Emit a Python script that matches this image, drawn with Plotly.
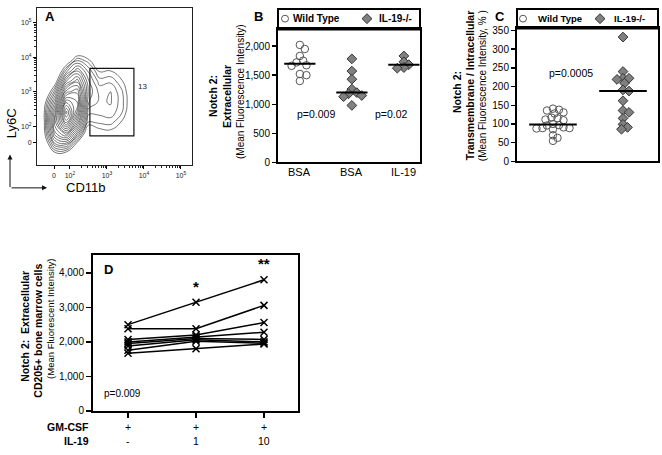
import numpy as np
import plotly.graph_objects as go

W, H = 662, 455
FONT = "Liberation Sans, Arial, sans-serif"


def px(x):
    return x / W


def py(y):
    return 1 - y / H


# ---------------- Panel A: flow contour (density levels) -------------
# display units: 2 = 10^2, 3 = 10^3 ...
a_x = [1.0, 1.3, 1.6, 1.9, 2.2, 2.5, 2.8, 3.1, 3.4, 3.7, 4.0]
a_y = [0.9, 1.2, 1.5, 1.8, 2.1, 2.4, 2.7, 3.0, 3.3, 3.6, 3.9, 4.2, 4.5]
a_z = [
    [-1.4, -1.4, -1.4, -1.4, -1.4, -1.4, -1.4, -1.4, -1.4, -1.4, -1.4],
    [-1.4, -1.4, -0.05, -0.25, -1.4, -1.4, -1.4, -1.4, -1.4, -1.4, -1.4],
    [-1.4, -0.82, 2.06, 2.38, -0.05, -1.4, -1.4, -1.4, -1.4, -1.4, -1.4],
    [-1.4, -0.05, 3.76, 5.0, 2.32, -0.95, -0.15, -0.05, -0.54, -1.4, -1.4],
    [-1.4, 0.1, 4.61, 7.55, 4.43, 0.6, 0.75, 0.85, 0.15, -1.0, -1.4],
    [-1.4, 0.15, 4.26, 9.0, 6.0, 1.3, 1.3, 1.45, 0.75, -0.58, -1.4],
    [-1.4, -0.25, 3.0, 7.35, 6.54, 2.1, 1.5, 1.65, 0.9, -0.44, -1.4],
    [-1.4, -1.4, 1.46, 5.42, 6.0, 2.4, 1.45, 1.6, 0.8, -0.54, -1.4],
    [-1.4, -1.4, -0.3, 3.37, 4.61, 2.13, 0.95, 1.05, 0.35, -0.82, -1.4],
    [-1.4, -1.4, -1.4, 1.34, 2.93, 1.51, 0.15, 0.25, -0.3, -1.4, -1.4],
    [-1.4, -1.4, -1.4, -0.68, 1.11, 0.46, -0.68, -0.58, -1.4, -1.4, -1.4],
    [-1.4, -1.4, -1.4, -1.4, -0.82, -1.4, -1.4, -1.4, -1.4, -1.4, -1.4],
    [-1.4, -1.4, -1.4, -1.4, -1.4, -1.4, -1.4, -1.4, -1.4, -1.4, -1.4],
]
a_tick_vals_x = [1.57, 2, 3, 4, 5]
a_tick_vals_y = [1.52, 2, 3, 4, 5]
a_tick_text = ["0", "10<sup>2</sup>", "10<sup>3</sup>", "10<sup>4</sup>", "10<sup>5</sup>"]
a_gate_x = [2.54, 3.73]
a_gate_y = [1.72, 3.67]
a_gate_pct = "13"
a_xlabel = "CD11b"
a_ylabel = "Ly6C"

# ---------------- Panel B -------------
b_categories = ["BSA", "BSA", "IL-19"]
b_wt_bsa = [2020, 1950, 1830, 1750, 1720, 1670, 1660, 1520, 1500, 1400]
b_ko_bsa = [1780, 1570, 1430, 1260, 1200, 1180, 1150, 1130, 980]
b_ko_il19 = [1830, 1730, 1680, 1630, 1620]
b_pvals = ["p=0.009", "p=0.02"]
b_yticks = [0, 500, 1000, 1500, 2000]

# ---------------- Panel C -------------
c_wt = [141, 138, 136, 131, 128, 117, 115, 112, 110, 100, 97, 96, 91, 89, 89, 88, 86, 70, 63, 55]
c_ko = [332, 240, 222, 222, 219, 209, 191, 188, 162, 136, 131, 115, 99, 91, 86]
c_pval = "p=0.0005"
c_yticks = [0, 50, 100, 150, 200, 250, 300, 350]

# ---------------- Panel D -------------
d_gmcsf = ["+", "+", "+"]
d_il19 = ["-", "1", "10"]
d_donors = [
    [2500, 3150, 3800],
    [2380, 2380, 3060],
    [2070, 2200, 2560],
    [2000, 2150, 2280],
    [1950, 2100, 2070],
    [1880, 2060, 2000],
    [1760, 2020, 1960],
    [1670, 1800, 1940],
]
d_sig = ["", "*", "**"]
d_pval = "p=0.009"
d_yticks = [0, 1000, 2000, 3000, 4000]

legend_names = ["Wild Type", "IL-19-/-"]

# ---------------- geometry (pixels) -------------
A_BOX = (37, 192, 4, 165)
A_XR = [1.11, 5.3]
A_YR = [0.87, 5.42]
B_BOX = (278, 420, 26, 162)
B_XR = [-0.42, 2.31]
B_YR = [0, 2286]
C_BOX = (517, 658, 25, 161)
C_XR = [-0.514, 1.5]
C_YR = [0, 355]
D_BOX = (93, 298, 257, 416)
D_XR = [-0.515, 2.5]
D_YR = [0, 4510]

MK = {
    "wt": dict(symbol="circle-open", size=7.5, color="#555555", line=dict(width=1)),
    "ko": dict(symbol="diamond", size=7.5, color="#808080", line=dict(color="#333333", width=1)),
}


def beeswarm(values, center, ppx, ppy, diam):
    values = np.asarray(values, dtype=float)
    order = np.argsort(-values, kind="stable")
    placed = []
    offs = np.zeros(len(values))
    step = diam * 0.3
    cands = [0.0]
    for j in range(1, 80):
        cands += [j * step, -j * step]
    for i in order:
        yp = values[i] * ppy
        chosen = 0.0
        for c in cands:
            if all((c - xo) ** 2 + (yp - yo) ** 2 >= diam ** 2 for xo, yo in placed):
                chosen = c
                break
        placed.append((chosen, yp))
        offs[i] = chosen
    return center + offs / ppx


fig = go.Figure()

# Panel A contour
fig.add_trace(go.Contour(
    x=a_x, y=a_y, z=a_z, xaxis="x", yaxis="y",
    contours=dict(start=0.25, end=9.0, size=0.45, coloring="lines"),
    colorscale=[[0, "#1a1a1a"], [1, "#1a1a1a"]], showscale=False,
    line=dict(width=0.6, smoothing=1.3), hoverinfo="skip",
))

# Panel B
b_ppx = (B_BOX[1] - B_BOX[0]) / (B_XR[1] - B_XR[0])
b_ppy = (B_BOX[3] - B_BOX[2]) / (B_YR[1] - B_YR[0])
for i, (vals, kind) in enumerate(zip([b_wt_bsa, b_ko_bsa, b_ko_il19], ["wt", "ko", "ko"])):
    xs = beeswarm(vals, i, b_ppx, b_ppy, 5.5)
    fig.add_trace(go.Scatter(x=xs, y=vals, mode="markers", marker=MK[kind],
                             xaxis="x2", yaxis="y2", showlegend=False))
    med = float(np.median(vals))
    fig.add_trace(go.Scatter(x=[i - 0.3, i + 0.3], y=[med, med], mode="lines",
                             line=dict(color="black", width=2), xaxis="x2", yaxis="y2",
                             showlegend=False))

# Panel C
c_ppx = (C_BOX[1] - C_BOX[0]) / (C_XR[1] - C_XR[0])
c_ppy = (C_BOX[3] - C_BOX[2]) / (C_YR[1] - C_YR[0])
for i, (vals, kind) in enumerate(zip([c_wt, c_ko], ["wt", "ko"])):
    xs = beeswarm(vals, i, c_ppx, c_ppy, 5.0)
    fig.add_trace(go.Scatter(x=xs, y=vals, mode="markers", marker=MK[kind],
                             xaxis="x3", yaxis="y3", showlegend=False))
    med = float(np.median(vals))
    fig.add_trace(go.Scatter(x=[i - 0.34, i + 0.34], y=[med, med], mode="lines",
                             line=dict(color="black", width=2), xaxis="x3", yaxis="y3",
                             showlegend=False))

# Panel D
d_x = list(range(len(d_gmcsf)))
for donor in d_donors:
    fig.add_trace(go.Scatter(x=d_x, y=donor, mode="lines+markers",
                             line=dict(color="black", width=1.5),
                             marker=dict(symbol="x-thin", size=7, line=dict(width=1.5, color="black")),
                             xaxis="x4", yaxis="y4", showlegend=False))


def axis_common(**kw):
    d = dict(showgrid=False, zeroline=False, showline=True, mirror=True,
             linecolor="black", tickcolor="black", tickfont=dict(family=FONT, size=10, color="black"))
    d.update(kw)
    return d


def minor_vals(lo, hi):
    out = []
    for dec in range(lo, hi):
        for k in range(2, 10):
            out.append(dec + np.log10(k))
    return out


layout = dict(
    width=W, height=H, margin=dict(l=0, r=0, t=0, b=0),
    paper_bgcolor="white", plot_bgcolor="white", showlegend=False,
    font=dict(family=FONT, color="black"),
    xaxis=axis_common(domain=[px(A_BOX[0]), px(A_BOX[1])], range=A_XR, anchor="y",
                      tickmode="array", tickvals=a_tick_vals_x, ticktext=a_tick_text,
                      ticks="outside", ticklen=3, tickwidth=1, linewidth=1, linecolor="#222",
                      tickfont=dict(family=FONT, size=7, color="#222"),
                      minor=dict(tickvals=minor_vals(2, 5), ticklen=2, ticks="outside", tickcolor="#222")),
    yaxis=axis_common(domain=[py(A_BOX[3]), py(A_BOX[2])], range=A_YR, anchor="x",
                      tickmode="array", tickvals=a_tick_vals_y, ticktext=a_tick_text,
                      ticks="outside", ticklen=3, tickwidth=1, linewidth=1, linecolor="#222",
                      tickfont=dict(family=FONT, size=7, color="#222"),
                      minor=dict(tickvals=minor_vals(2, 5), ticklen=2, ticks="outside", tickcolor="#222")),
    xaxis2=axis_common(domain=[px(B_BOX[0]), px(B_BOX[1])], range=B_XR, anchor="y2",
                       tickmode="array", tickvals=[0, 1, 2], showticklabels=False, ticks="",
                       linewidth=2),
    yaxis2=axis_common(domain=[py(B_BOX[3]), py(B_BOX[2])], range=B_YR, anchor="x2",
                       tickmode="array", tickvals=b_yticks, tickformat=",d",
                       ticks="outside", ticklen=4, tickwidth=1.5, linewidth=2),
    xaxis3=axis_common(domain=[px(C_BOX[0]), px(C_BOX[1])], range=C_XR, anchor="y3",
                       showticklabels=False, ticks="", linewidth=2),
    yaxis3=axis_common(domain=[py(C_BOX[3]), py(C_BOX[2])], range=C_YR, anchor="x3",
                       tickmode="array", tickvals=c_yticks,
                       ticks="outside", ticklen=4, tickwidth=1.5, linewidth=2),
    xaxis4=axis_common(domain=[px(D_BOX[0]), px(D_BOX[1])], range=D_XR, anchor="y4",
                       tickmode="array", tickvals=d_x, showticklabels=False,
                       ticks="outside", ticklen=5, tickwidth=1.5, linewidth=2),
    yaxis4=axis_common(domain=[py(D_BOX[3]), py(D_BOX[2])], range=D_YR, anchor="x4",
                       tickmode="array", tickvals=d_yticks, tickformat=",d",
                       ticks="outside", ticklen=5, tickwidth=1.5, linewidth=2),
)
fig.update_layout(**layout)

shapes = []
# gate
shapes.append(dict(type="rect", xref="x", yref="y", x0=a_gate_x[0], x1=a_gate_x[1],
                   y0=a_gate_y[0], y1=a_gate_y[1], line=dict(color="#111", width=1.2)))
# legend boxes
for (x0, x1, y0, y1) in [(B_BOX[0], B_BOX[1], 5, B_BOX[2]), (C_BOX[0], C_BOX[1], 5, C_BOX[2])]:
    shapes.append(dict(type="rect", xref="paper", yref="paper", x0=px(x0), x1=px(x1),
                       y0=py(y1), y1=py(y0), line=dict(color="black", width=2)))


def legend_circle(cx, cy, r=3.5):
    return dict(type="circle", xref="paper", yref="paper", x0=px(cx - r), x1=px(cx + r),
                y0=py(cy + r), y1=py(cy - r), line=dict(color="#555555", width=1))


def legend_diamond(cx, cy, r=5):
    path = "M {:.5f},{:.5f} L {:.5f},{:.5f} L {:.5f},{:.5f} L {:.5f},{:.5f} Z".format(
        px(cx - r), py(cy), px(cx), py(cy - r), px(cx + r), py(cy), px(cx), py(cy + r))
    return dict(type="path", xref="paper", yref="paper", path=path,
                fillcolor="#808080", line=dict(color="#333333", width=1))


shapes += [legend_circle(285, 15), legend_diamond(367, 15),
           legend_circle(523, 15), legend_diamond(600, 15)]
fig.update_layout(shapes=shapes)

ann = []


def txt(x, y, s, size=10, bold=False, angle=0, xanchor="center", color="black"):
    if bold:
        s = "<b>" + s + "</b>"
    ann.append(dict(x=px(x), y=py(y), xref="paper", yref="paper", text=s, showarrow=False,
                    textangle=angle, xanchor=xanchor, yanchor="middle", borderpad=0,
                    font=dict(family=FONT, size=size, color=color)))


# panel letters
txt(50, 13, "A", 13, True)
txt(258, 13, "B", 13, True)
txt(500, 13, "C", 13, True)
txt(108, 271, "D", 13, True)

# Panel A texts
txt(11, 122, a_ylabel, 13, angle=-90)
txt(86, 188, a_xlabel, 13)
ann.append(dict(x=a_gate_x[1] + 0.05, y=(a_gate_y[0] + a_gate_y[1]) / 2 + 0.45, xref="x", yref="y",
                text=a_gate_pct, showarrow=False, xanchor="left",
                font=dict(family=FONT, size=8, color="#222")))
# axis arrows
ann.append(dict(x=px(10), y=py(154), xref="paper", yref="paper", ax=0, ay=34, text="",
                showarrow=True, arrowhead=2, arrowsize=1, arrowwidth=1, arrowcolor="#111"))
ann.append(dict(x=px(47), y=py(188), xref="paper", yref="paper", ax=-37, ay=0, text="",
                showarrow=True, arrowhead=2, arrowsize=1, arrowwidth=1, arrowcolor="#111"))

# Panel B texts
txt(213, 94, "Notch 2:", 10.5, True, -90)
txt(227, 94, "Extracellular", 10.5, True, -90)
txt(240, 90, "(Mean Fluorescence Intensity)", 10, False, -90)
txt(292, 15, legend_names[0], 10, True, xanchor="left")
txt(378, 15, legend_names[1], 10, True, xanchor="left")
txt(316, 112, b_pvals[0], 10.5)
txt(392, 112, b_pvals[1], 10.5)
for i, cat in enumerate(b_categories):
    ann.append(dict(x=i, y=py(172), xref="x2", yref="paper", text=cat, showarrow=False,
                    yanchor="middle", font=dict(family=FONT, size=11, color="black")))

# Panel C texts
txt(457, 90, "Notch 2:", 10.5, True, -90)
txt(470, 84, "Transmembrane / Intracellular", 10.5, True, -90)
txt(482, 84, "(Mean Fluorescence Intensity, % )", 10, False, -90)
txt(537, 15, legend_names[0], 9.5, True, xanchor="left")
txt(613, 15, legend_names[1], 9.5, True, xanchor="left")
txt(571, 71, c_pval, 10.5)

# Panel D texts
txt(25, 330, "Notch 2:  Extracellular", 10.5, True, -90)
txt(38, 334, "CD205+ bone marrow cells", 10.5, True, -90)
txt(51, 322, "(Mean Fluorescent Intensity)", 9.5, False, -90)
txt(122, 398, d_pval, 10)
txt(90, 433, "GM-CSF", 10.5, True, xanchor="right")
txt(90, 447, "IL-19", 10.5, True, xanchor="right")
for i in d_x:
    ann.append(dict(x=i, y=py(433), xref="x4", yref="paper", text=d_gmcsf[i], showarrow=False,
                    yanchor="middle", font=dict(family=FONT, size=10.5, color="black")))
    ann.append(dict(x=i, y=py(447), xref="x4", yref="paper", text=d_il19[i], showarrow=False,
                    yanchor="middle", font=dict(family=FONT, size=10.5, color="black")))
    if d_sig[i]:
        top = max(d[i] for d in d_donors)
        ann.append(dict(x=i, y=top, xref="x4", yref="y4", text="<b>" + d_sig[i] + "</b>",
                        showarrow=False, yanchor="middle", yshift=16,
                        font=dict(family=FONT, size=15, color="black")))

fig.update_layout(annotations=ann)
fig.write_html(
    "out.html",
    config={"displayModeBar": False, "staticPlot": True},
    post_script="document.body.style.margin='0';document.body.style.overflow='hidden';",
)
